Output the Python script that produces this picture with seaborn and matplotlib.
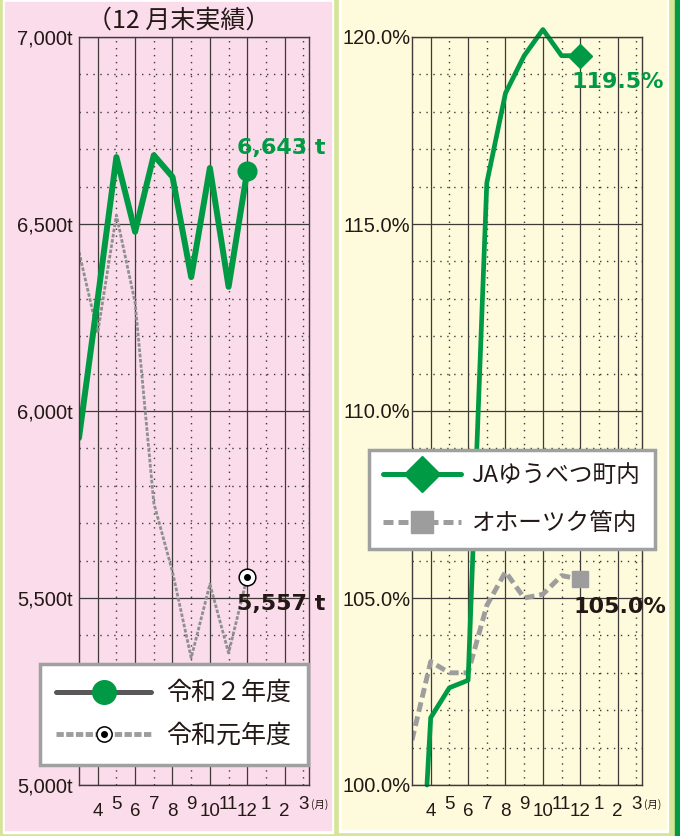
import numpy as np
import pandas as pd
import matplotlib.pyplot as plt
from matplotlib.patches import Rectangle
from matplotlib.lines import Line2D
import seaborn as sns

# month labels (index 0 = April ... 11 = March)
months = ['4', '5', '6', '7', '8', '9', '10', '11', '12', '1', '2', '3']

# left chart: stock (t), position -1 = previous March
r2_pos = [-1, 0, 1, 2, 3, 4, 5, 6, 7, 8]
r2_vals = [5928, 6300, 6679, 6479, 6684, 6626, 6358, 6650, 6332, 6643]
r1_pos = [-1, 0, 1, 2, 3, 4, 5, 6, 7, 8]
r1_vals = [6425, 6209, 6524, 6290, 5754, 5570, 5340, 5537, 5353, 5557]

# right chart: ratio (%)
ja_pos = [-0.2, 0, 1, 2, 3, 4, 5, 6, 7, 8]
ja_vals = [100.0, 101.8, 102.6, 102.8, 116.1, 118.5, 119.5, 120.2, 119.5, 119.5]
ok_pos = [-1, 0, 1, 2, 3, 4, 5, 6, 7, 8]
ok_vals = [101.2, 103.3, 103.0, 103.0, 104.8, 105.7, 105.0, 105.1, 105.6, 105.5]

GREEN = '#009a44'
GRAY = '#9d9d9d'
DARK = '#231815'
PINK = '#fadcea'
YELLOW = '#fefadc'
LGREEN = '#d5e496'

sns.set_style('white')
plt.rcParams['font.family'] = ['Liberation Sans', 'Noto Sans CJK JP', 'DejaVu Sans']
JP = ['Noto Sans CJK JP', 'DejaVu Sans']

W, H = 680, 836
fig = plt.figure(figsize=(W / 100, H / 100), dpi=100, facecolor=LGREEN)


def rect(x0, y0, x1, y1, color):
    fig.patches.append(Rectangle((x0 / W, 1 - y1 / H), (x1 - x0) / W, (y1 - y0) / H,
                                 transform=fig.transFigure, color=color, zorder=-10))


# panel backgrounds
rect(3, 0, 333, 833, 'white')
rect(5, 2, 331, 830, PINK)
rect(339, 0, 668, 832, 'white')
rect(342, 0, 666, 829, YELLOW)
rect(675, 0, 680, 836, GREEN)

axL = fig.add_axes([79 / W, 1 - 785 / H, 230 / W, 748 / H])
axR = fig.add_axes([412 / W, 1 - 785 / H, 230 / W, 748 / H])

# left chart lines
df_r1 = pd.DataFrame({'pos': r1_pos, 'value': r1_vals})
df_r2 = pd.DataFrame({'pos': r2_pos, 'value': r2_vals})
sns.lineplot(data=df_r1, x='pos', y='value', ax=axL, color='#8f8f8f', lw=2,
             linestyle=(0, (1.3, 0.6)), estimator=None, sort=False)
sns.lineplot(data=df_r2, x='pos', y='value', ax=axL, color=GREEN, lw=4.3,
             estimator=None, sort=False)
axL.plot(r2_pos[-1], r2_vals[-1], 'o', ms=13.5, color=GREEN, zorder=5)
axL.plot(r1_pos[-1], r1_vals[-1], 'o', ms=12, mfc='white', mec='black', mew=1.1, zorder=5)
axL.plot(r1_pos[-1], r1_vals[-1], 'o', ms=4, color='black', zorder=6)
axL.annotate(f'{r2_vals[-1]:,} t', xy=(r2_pos[-1], r2_vals[-1]), xytext=(-7.2, 16),
             textcoords='offset points', ha='left', va='center', fontsize=16,
             fontweight='bold', color=GREEN, family='DejaVu Sans')
axL.annotate(f'{r1_vals[-1]:,} t', xy=(r1_pos[-1], r1_vals[-1]), xytext=(-7.2, -19.4),
             textcoords='offset points', ha='left', va='center', fontsize=16,
             fontweight='bold', color=DARK, family='DejaVu Sans')

# right chart lines
df_ok = pd.DataFrame({'pos': ok_pos, 'value': ok_vals})
df_ja = pd.DataFrame({'pos': ja_pos, 'value': ja_vals})
sns.lineplot(data=df_ok, x='pos', y='value', ax=axR, color=GRAY, lw=3.5,
             linestyle=(0, (2, 1)), estimator=None, sort=False)
sns.lineplot(data=df_ja, x='pos', y='value', ax=axR, color=GREEN, lw=3.4,
             estimator=None, sort=False, clip_on=False)
axR.plot(ja_pos[-1], ja_vals[-1], 'D', ms=12, color=GREEN, zorder=5, clip_on=False)
axR.plot(ok_pos[-1], ok_vals[-1], 's', ms=12, color=GRAY, zorder=5)
axR.annotate('119.5%', xy=(ja_pos[-1], ja_vals[-1]), xytext=(-6.5, -18.7),
             textcoords='offset points', ha='left', va='center', fontsize=16,
             fontweight='bold', color=GREEN, family='DejaVu Sans', annotation_clip=False)
axR.annotate('105.0%', xy=(ok_pos[-1], ok_vals[-1]), xytext=(-5, -20),
             textcoords='offset points', ha='left', va='center', fontsize=16,
             fontweight='bold', color=DARK, family='DejaVu Sans')


def style_axes(ax, face, ymin, ymax, ymajor, yminor, fmt, pad):
    ax.set_facecolor(face)
    ax.set_xlim(-1, 11.3)
    ax.set_ylim(ymin, ymax)
    ax.set_xticks(np.arange(0, 12, 2))
    ax.set_xticks(np.arange(1, 12, 2), minor=True)
    ax.set_yticks(np.arange(ymin, ymax + ymajor / 2, ymajor))
    ax.set_yticks(np.arange(ymin, ymax + yminor / 2, yminor), minor=True)
    ax.set_xticklabels([])
    ax.set_yticklabels([fmt(v) for v in np.arange(ymin, ymax + ymajor / 2, ymajor)])
    ax.grid(which='major', color='#3e3a39', lw=0.9, ls='-')
    ax.grid(which='minor', color='#3e3a39', lw=1.0, ls=(0, (1, 4)))
    ax.set_axisbelow(True)
    ax.tick_params(axis='x', which='major', length=4, width=1, color='#3e3a39', direction='out')
    ax.tick_params(axis='x', which='minor', length=0)
    ax.tick_params(axis='y', which='both', length=0, pad=pad, labelsize=14.5, labelcolor=DARK)
    for s in ax.spines.values():
        s.set_color('#3e3a39')
        s.set_linewidth(1)
    ax.set_xlabel('')
    ax.set_ylabel('')
    # staggered month labels
    for i, m in enumerate(months):
        yy = -0.035 if i % 2 == 0 else -0.026
        ax.text(i, yy, m, transform=ax.get_xaxis_transform(), ha='center', va='center',
                fontsize=13.5, color=DARK)
    ax.text(11.4, -0.026, '(月)', transform=ax.get_xaxis_transform(), ha='left', va='center',
            fontsize=7.5, color=DARK, family=JP)


style_axes(axL, PINK, 5000, 7000, 500, 100, lambda v: f'{int(v):,}t', 4.5)
style_axes(axR, YELLOW, 100, 120, 5, 1, lambda v: f'{v:.1f}%', 1)

# title
fig.text(179 / W, 1 - 21 / H, '（12 月末実績）', ha='center', va='center', fontsize=18,
         color=DARK, family=JP)

# legends
h_r2 = Line2D([], [], color='#595757', lw=3.6, marker='o', ms=17, mfc=GREEN, mec=GREEN)
h_r1a = Line2D([], [], color=GRAY, lw=3.5, ls=(0, (1.5, 0.5)), marker='o', ms=11,
               mfc='white', mec='black', mew=1.1)
h_r1b = Line2D([], [], ls='none', marker='o', ms=4, color='black')
legL = fig.legend([h_r2, (h_r1a, h_r1b)], ['令和２年度', '令和元年度'],
                  loc='upper left', bbox_to_anchor=(40 / W, 1 - 664 / H), borderaxespad=0,
                  prop={'family': JP, 'size': 18}, handlelength=3.8, handletextpad=0.6,
                  borderpad=0.65, labelspacing=0.65, frameon=True, fancybox=False,
                  framealpha=1, edgecolor='#9fa0a0', facecolor='white')
legL.get_frame().set_linewidth(2.5)
for t in legL.get_texts():
    t.set_color(DARK)

h_ja = Line2D([], [], color=GREEN, lw=3.6, marker='D', ms=18)
h_ok = Line2D([], [], color=GRAY, lw=3.6, ls=(0, (2, 1)), marker='s', ms=16)
legR = fig.legend([h_ja, h_ok], ['JAゆうべつ町内', 'オホーツク管内'],
                  loc='upper left', bbox_to_anchor=(369 / W, 1 - 450 / H), borderaxespad=0,
                  prop={'family': JP, 'size': 17}, handlelength=3.3, handletextpad=0.45,
                  borderpad=0.6, labelspacing=1.05, frameon=True, fancybox=False,
                  framealpha=1, edgecolor='#9fa0a0', facecolor='white')
legR.get_frame().set_linewidth(2.5)
for t in legR.get_texts():
    t.set_color(DARK)

fig.savefig('out.png', dpi=100, facecolor=LGREEN)
